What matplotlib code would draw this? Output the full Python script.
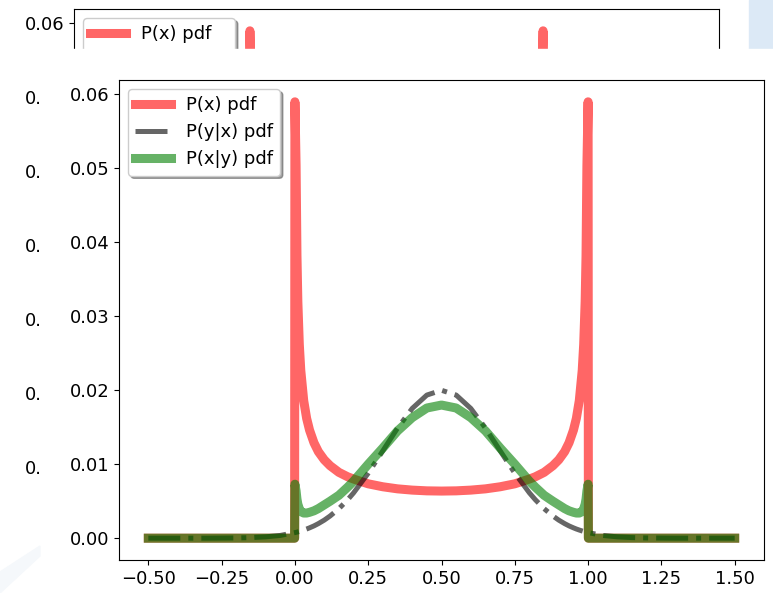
import matplotlib
matplotlib.use("Agg")
import matplotlib.pyplot as plt
from matplotlib.patches import Rectangle, Polygon

plt.rcParams["font.size"] = 13

# sample positions: flat tails outside [0, 1], denser near the edges
x = [-0.5, -0.4, -0.3, -0.2, -0.15, -0.1, -0.05, -0.001,
     0.0, 0.004, 0.007, 0.01, 0.015, 0.02, 0.03, 0.04, 0.05, 0.065, 0.08,
     0.10, 0.12, 0.15, 0.18, 0.20, 0.25, 0.30, 0.35, 0.40, 0.45, 0.50,
     0.55, 0.60, 0.65, 0.70, 0.75, 0.80, 0.82, 0.85, 0.88, 0.90, 0.92,
     0.935, 0.95, 0.96, 0.97, 0.98, 0.985, 0.99, 0.993, 0.996, 1.0,
     1.001, 1.05, 1.1, 1.15, 1.2, 1.3, 1.4, 1.5]

p_x = [0, 0, 0, 0, 0, 0, 0, 0,
       0.059, 0.0504, 0.0382, 0.032, 0.0262, 0.0227, 0.0186, 0.0162, 0.0146,
       0.0129, 0.0117, 0.0106, 0.0098, 0.0089, 0.0083, 0.0080, 0.00735,
       0.00695, 0.00667, 0.0065, 0.0064, 0.00637,
       0.0064, 0.0065, 0.00667, 0.00695, 0.00735, 0.0080, 0.0083, 0.0089,
       0.0098, 0.0106, 0.0117, 0.0129, 0.0146, 0.0162, 0.0186, 0.0227,
       0.0262, 0.032, 0.0382, 0.0504, 0.059,
       0, 0, 0, 0, 0, 0, 0, 0]

p_y_given_x = [0.0, 0.0, 0.0, 0.00003, 0.00008, 0.00018, 0.00037, 0.00075,
               0.00075, 0.00079, 0.00082, 0.00085, 0.00091, 0.00097, 0.0011,
               0.00124, 0.0014, 0.00166, 0.00197, 0.00244, 0.0030, 0.00399,
               0.0052, 0.00612, 0.00879, 0.01182, 0.01488, 0.01754, 0.01935,
               0.0200,
               0.01935, 0.01754, 0.01488, 0.01182, 0.00879, 0.00612, 0.0052,
               0.00399, 0.0030, 0.00244, 0.00197, 0.00166, 0.0014, 0.00124,
               0.0011, 0.00097, 0.00091, 0.00085, 0.00082, 0.00079, 0.00075,
               0.00075, 0.00037, 0.00018, 0.00008, 0.00003, 0.0, 0.0, 0.0]

p_x_given_y = [0, 0, 0, 0, 0, 0, 0, 0,
               0.0073, 0.0064, 0.0053, 0.0046, 0.0040, 0.0036, 0.0034, 0.0034,
               0.0035, 0.0037, 0.0040, 0.0045, 0.0050, 0.0058, 0.0069, 0.0077,
               0.0100, 0.0122, 0.0145, 0.0163, 0.0176, 0.0180,
               0.0176, 0.0163, 0.0145, 0.0122, 0.0100, 0.0077, 0.0069, 0.0058,
               0.0050, 0.0045, 0.0040, 0.0037, 0.0035, 0.0034, 0.0034, 0.0036,
               0.0040, 0.0046, 0.0053, 0.0064, 0.0073,
               0, 0, 0, 0, 0, 0, 0, 0]

W, H = 773, 593


def px_rect(left, top, right, bottom):
    return [left / W, 1 - bottom / H, (right - left) / W, (bottom - top) / H]


def draw(ax):
    ax.plot(x, p_x, "r-", lw=6.5, alpha=0.6, label="P(x) pdf")
    ax.plot(x, p_y_given_x, "k-.", lw=3.6, alpha=0.6, label="P(y|x) pdf")
    ax.plot(x, p_x_given_y, "g-", lw=6.5, alpha=0.6, label="P(x|y) pdf")
    ax.legend(loc="upper left", shadow=True)


fig = plt.figure(figsize=(W / 100, H / 100), dpi=100)

# older window of the same plot, mostly covered
ax_back = fig.add_axes(px_rect(74, 9, 719, 489))
draw(ax_back)
ax_back.set_zorder(0)

fig.patches.append(Rectangle((749 / W, 1 - 49 / H), 24 / W, 49 / H,
                             transform=fig.transFigure, color="#dce9f6",
                             zorder=0.5))
fig.patches.append(Rectangle((42 / W, 0), 1, 1 - 49 / H,
                             transform=fig.transFigure, color="white",
                             zorder=1))
fig.patches.append(Polygon([(0, 1 - 593 / H), (0, 1 - 572 / H),
                            (40 / W, 1 - 546 / H), (40 / W, 1 - 556 / H)],
                           closed=True, transform=fig.transFigure,
                           color="#f5f8fb", zorder=1.5))

ax = fig.add_axes(px_rect(119, 80, 764, 560))
draw(ax)
ax.set_zorder(2)

fig.savefig("out.png", dpi=100)
